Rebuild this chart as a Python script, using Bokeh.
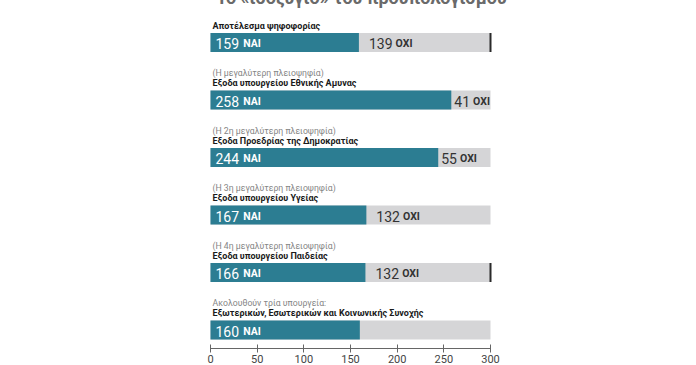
from bokeh.plotting import figure
from bokeh.models import Range1d, LinearAxis, FixedTicker
from bokeh.core.properties import value
from bokeh.embed import file_html
from bokeh.resources import INLINE

# ---- data ----
title_text = "Το «ισοζύγιο» του προϋπολογισμού"
notes = ["", "(Η μεγαλύτερη πλειοψηφία)", "(Η 2η μεγαλύτερη πλειοψηφία)",
         "(Η 3η μεγαλύτερη πλειοψηφία)", "(Η 4η μεγαλύτερη πλειοψηφία)",
         "Ακολουθούν τρία υπουργεία:"]
categories = ["Αποτέλεσμα ψηφοφορίας", "Εξοδα υπουργείου Εθνικής Αμυνας",
              "Εξοδα Προεδρίας της Δημοκρατίας", "Εξοδα υπουργείου Υγείας",
              "Εξοδα υπουργείου Παιδείας",
              "Εξωτερικών, Εσωτερικών και Κοινωνικής Συνοχής"]
yes_votes = [159, 258, 244, 167, 166, 160]
no_votes = [139, 41, 55, 132, 132, None]
total_seats = 300
mark_total = [True, False, False, False, True, False]
x_ticks = [0, 50, 100, 150, 200, 250, 300]

TEAL = "#2c7d92"
GREY = "#d5d5d7"
FONT = "Roboto"

rows = list(range(len(categories)))

# ---- layout ----
frame_w, frame_h = 680, 354
px_per_unit = 280 / total_seats
x0_px = 202
row_px = 57.5
top_px = 48

p = figure(frame_width=frame_w, frame_height=frame_h, output_backend="svg",
           toolbar_location=None, x_axis_location=None, y_axis_location=None,
           min_border=0, min_border_left=0, min_border_right=0, min_border_top=0,
           min_border_bottom=0, margin=(-6, 0, 0, 8))
p.x_range = Range1d(-x0_px / px_per_unit, (frame_w - x0_px) / px_per_unit)
p.y_range = Range1d((frame_h - top_px) / row_px, -top_px / row_px)
p.outline_line_color = None
p.xgrid.visible = False
p.ygrid.visible = False
p.background_fill_color = "white"
p.border_fill_color = "white"

bar_h = 19 / row_px

# background bars (total)
p.hbar(y=rows, left=0, right=[total_seats] * len(rows), height=bar_h,
       color=GREY, line_color=None)
# yes bars
p.hbar(y=rows, left=0, right=yes_votes, height=bar_h, color=TEAL, line_color=None)

# total mark
mk = [r for r, m in zip(rows, mark_total) if m]
p.segment(x0=[total_seats] * len(mk), x1=[total_seats] * len(mk),
          y0=[r - bar_h / 2 for r in mk], y1=[r + bar_h / 2 for r in mk],
          line_color="#2a2a2a", line_width=2)

# labels
p.text(x=[0] * len(rows), y=rows, text=notes, x_offset=2, y_offset=-27,
       text_font=value(FONT), text_font_size="8.7px", text_color="#858585",
       text_baseline="middle")
p.text(x=[0] * len(rows), y=rows, text=categories, x_offset=2, y_offset=-17,
       text_font=value(FONT), text_font_size="9px", text_color="#1a1a1a",
       text_font_style="bold", text_baseline="middle")

DIG = 7.9
# yes numbers
p.text(x=[0] * len(rows), y=rows, text=[str(v) for v in yes_votes], x_offset=5,
       y_offset=1, text_font=value(FONT), text_font_size="14px", text_color="white",
       text_baseline="middle")
p.text(x=[0] * len(rows), y=rows, text=["ΝΑΙ"] * len(rows),
       x_offset=[5 + len(str(v)) * DIG + 4 for v in yes_votes], y_offset=1,
       text_font=value(FONT), text_font_size="10.5px", text_color="white",
       text_font_style="bold", text_baseline="middle")

# no numbers
nr = [r for r, n in zip(rows, no_votes) if n is not None]
nx = [yes_votes[r] for r in nr]
nv = [no_votes[r] for r in nr]
noff = [10 if v >= 100 else 3 for v in nv]
p.text(x=nx, y=nr, text=[str(v) for v in nv], x_offset=noff, y_offset=1,
       text_font=value(FONT), text_font_size="14px", text_color="#333333",
       text_baseline="middle")
p.text(x=nx, y=nr, text=["ΟΧΙ"] * len(nr),
       x_offset=[o + len(str(v)) * DIG + 3 for o, v in zip(noff, nv)], y_offset=1,
       text_font=value(FONT), text_font_size="10.5px", text_color="#333333",
       text_font_style="bold", text_baseline="middle")

# title (cropped at top, as in the original)
p.text(x=[total_seats / 2], y=[0], text=[title_text], x_offset=11, y_offset=-45,
       text_font=value(FONT), text_font_size="18px", text_color="#6a6a6a",
       text_font_style="bold", text_align="center", text_baseline="alphabetic")

# x axis
ax = LinearAxis(ticker=FixedTicker(ticks=x_ticks), bounds=(0, total_seats))
ax.axis_line_color = "#666666"
ax.major_tick_line_color = "#666666"
ax.major_tick_in = 4
ax.major_tick_out = 4
ax.minor_tick_line_color = None
ax.major_label_text_font = FONT
ax.major_label_text_font_size = "11px"
ax.major_label_text_color = "#444444"
ax.major_label_standoff = 2
p.add_layout(ax, "below")

open("out.html", "w").write(file_html(p, INLINE))
